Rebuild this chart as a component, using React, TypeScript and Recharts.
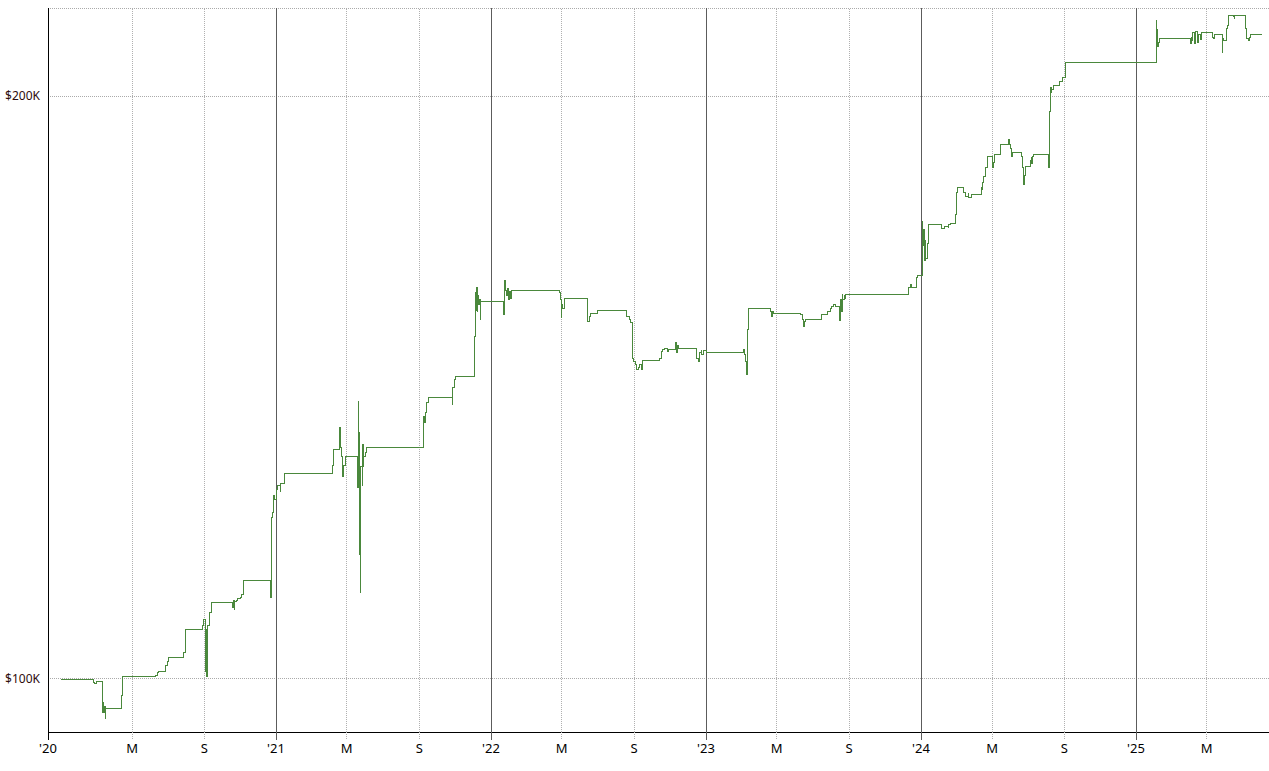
import { LineChart, Line, XAxis, YAxis, CartesianGrid, ReferenceLine } from 'recharts'

// equity curve, time as fractional year
const times = [
  2020.000, 2020.151, 2020.158, 2020.165, 2020.192, 2020.194, 2020.197, 2020.200, 2020.205, 2020.208,
  2020.280, 2020.287, 2020.440, 2020.447, 2020.454, 2020.488, 2020.493, 2020.498, 2020.572, 2020.578,
  2020.656, 2020.662, 2020.670, 2020.672, 2020.674, 2020.677, 2020.679, 2020.682, 2020.690, 2020.698,
  2020.797, 2020.800, 2020.805, 2020.809, 2020.814, 2020.823, 2020.833, 2020.840, 2020.848, 2020.974,
  2020.978, 2020.980, 2020.984, 2020.987, 2020.995, 2021.000, 2021.009, 2021.019, 2021.023, 2021.040,
  2021.262, 2021.268, 2021.294, 2021.298, 2021.301, 2021.304, 2021.308, 2021.313, 2021.321, 2021.379,
  2021.383, 2021.385, 2021.388, 2021.391, 2021.393, 2021.395, 2021.400, 2021.403, 2021.406, 2021.409,
  2021.414, 2021.422, 2021.684, 2021.687, 2021.690, 2021.693, 2021.698, 2021.707, 2021.822, 2021.823,
  2021.828, 2021.837, 2021.924, 2021.928, 2021.930, 2021.933, 2021.935, 2021.938, 2021.942, 2021.946,
  2021.950, 2021.953, 2021.958, 2022.056, 2022.059, 2022.062, 2022.064, 2022.067, 2022.071, 2022.076,
  2022.081, 2022.085, 2022.090, 2022.094, 2022.320, 2022.322, 2022.326, 2022.329, 2022.332, 2022.343,
  2022.447, 2022.451, 2022.456, 2022.463, 2022.488, 2022.494, 2022.630, 2022.644, 2022.651, 2022.656,
  2022.660, 2022.665, 2022.672, 2022.677, 2022.684, 2022.693, 2022.699, 2022.706, 2022.786, 2022.792,
  2022.797, 2022.805, 2022.821, 2022.826, 2022.860, 2022.864, 2022.867, 2022.874, 2022.957, 2022.963,
  2022.970, 2022.977, 2022.981, 2022.988, 2023.000, 2023.174, 2023.179, 2023.184, 2023.187, 2023.191,
  2023.194, 2023.197, 2023.299, 2023.304, 2023.308, 2023.313, 2023.440, 2023.447, 2023.453, 2023.457,
  2023.462, 2023.536, 2023.563, 2023.578, 2023.586, 2023.595, 2023.603, 2023.623, 2023.627, 2023.629,
  2023.634, 2023.637, 2023.642, 2023.647, 2023.651, 2023.941, 2023.944, 2023.950, 2023.955, 2023.980,
  2023.986, 2024.005, 2024.007, 2024.009, 2024.013, 2024.015, 2024.019, 2024.023, 2024.028, 2024.033,
  2024.094, 2024.108, 2024.127, 2024.130, 2024.138, 2024.160, 2024.163, 2024.169, 2024.197, 2024.205,
  2024.219, 2024.223, 2024.233, 2024.280, 2024.285, 2024.288, 2024.293, 2024.298, 2024.301, 2024.307,
  2024.332, 2024.335, 2024.343, 2024.369, 2024.408, 2024.413, 2024.417, 2024.421, 2024.423, 2024.427,
  2024.467, 2024.470, 2024.474, 2024.479, 2024.482, 2024.485, 2024.488, 2024.508, 2024.512, 2024.516,
  2024.520, 2024.524, 2024.592, 2024.595, 2024.597, 2024.599, 2024.601, 2024.603, 2024.606, 2024.609,
  2024.614, 2024.642, 2024.656, 2024.674, 2025.094, 2025.096, 2025.099, 2025.102, 2025.106, 2025.108,
  2025.253, 2025.256, 2025.260, 2025.265, 2025.270, 2025.274, 2025.279, 2025.284, 2025.288, 2025.293,
  2025.298, 2025.306, 2025.355, 2025.360, 2025.364, 2025.401, 2025.403, 2025.406, 2025.423, 2025.427,
  2025.428, 2025.453, 2025.456, 2025.460, 2025.508, 2025.512, 2025.516, 2025.521, 2025.526, 2025.533,
  2025.586,
]

const equity = [
  100000, 99640, 99410, 99760, 96040, 97190, 96040, 96730, 95360, 96500,
  98000, 100240, 100360, 100720, 100840, 101560, 102160, 102650, 103140, 106120,
  106630, 107390, 101320, 104750, 100840, 106000, 100240, 106630, 108290, 109460,
  108810, 109720, 108550, 109590, 109720, 109980, 110240, 110630, 112360, 110240,
  111160, 121240, 121820, 124450, 123720, 125200, 125940, 124900, 126240, 127750,
  128970, 131300, 134780, 132870, 131610, 130210, 127150, 128970, 130360, 125640,
  139170, 133980, 115890, 128210, 110770, 128670, 125940, 132080, 128670, 130210,
  130980, 131610, 134140, 136550, 135580, 137360, 138840, 139670, 138510, 141340,
  142690, 143200, 150350, 158240, 155070, 159370, 154710, 157860, 156000, 156930,
  153240, 156560, 156740, 155070, 154160, 159750, 160700, 158800, 157860, 159180,
  156930, 158430, 157300, 158800, 158240, 156930, 153610, 156000, 155260, 157120,
  154520, 152880, 153790, 154340, 154520, 154890, 153790, 153420, 152700, 151790,
  146470, 145780, 145260, 144400, 144740, 145260, 144400, 145950, 146470, 147520,
  147870, 148220, 147520, 147870, 149280, 147350, 148580, 148220, 146470, 145780,
  147350, 147700, 147000, 147700, 147350, 147870, 147000, 145780, 143540, 148750,
  151430, 155260, 154710, 153790, 154710, 154520, 154160, 153240, 151970, 152880,
  153420, 154160, 154710, 155260, 155630, 156000, 155630, 153060, 156930, 154710,
  158050, 156930, 157680, 157300, 158050, 158800, 159370, 159940, 159370, 161090,
  161660, 166540, 172180, 167530, 170550, 164570, 168530, 164960, 167930, 171570,
  170750, 171160, 170960, 171570, 171970, 173620, 178220, 179280, 178220, 177580,
  178010, 177370, 177800, 179280, 178860, 180560, 181640, 182510, 183600, 186010,
  183810, 184690, 186460, 188690, 189810, 188690, 188010, 187120, 186010, 186900,
  186010, 184910, 183810, 179920, 182070, 183600, 184030, 185130, 185790, 184470,
  186230, 186460, 184250, 183600, 189810, 196240, 200240, 202150, 200950, 201670,
  202630, 203360, 204330, 208250, 218660, 212500, 216330, 212000, 213260, 214280,
  213010, 214530, 213520, 215560, 213770, 213010, 215820, 213770, 213260, 215050,
  214020, 215560, 214530, 214280, 215050, 210740, 214280, 213520, 216840, 217360,
  219960, 219700, 219180, 219960, 216840, 214530, 214280, 213770, 214530, 215300,
  215300,
]

const axisStart = 2019.9395
const axisEnd = 2025.6186
const yearTicks = [2021, 2022, 2023, 2024, 2025]
const monthTicks = [2020.331, 2020.667, 2021.329, 2021.666, 2022.329, 2022.666, 2023.329, 2023.666, 2024.331, 2024.667, 2025.329]
const monthLabels = ['M', 'S', 'M', 'S', 'M', 'S', 'M', 'S', 'M', 'S', 'M']
const valueTicks = [100000, 200000]

const data = times.map((t, i) => ({ t, equity: equity[i] }))

function tickLabel(v: number) {
  if (Math.abs(v - axisStart) < 0.001) return "'20"
  if (yearTicks.includes(v)) return `'${String(v).slice(2)}`
  const mi = monthTicks.indexOf(v)
  return mi >= 0 ? monthLabels[mi] : ''
}

function XTick(props: any) {
  const { x, y, payload } = props
  const v = payload.value as number
  const isStart = Math.abs(v - axisStart) < 0.001
  const isYear = yearTicks.includes(v)
  const stroke = isStart ? '#000' : isYear ? '#5c5c5c' : '#b0b0b0'
  return (
    <g>
      <line x1={x} x2={x} y1={y - 8} y2={y} stroke={stroke} strokeDasharray={isStart || isYear ? undefined : '1 1'} shapeRendering="crispEdges" />
      <text x={x} y={y + 13} textAnchor="middle" fontSize={13} fill="#000" fontFamily="'Noto Sans', sans-serif">
        {tickLabel(v)}
      </text>
    </g>
  )
}

export default function App() {
  return (
    <div style={{ position: 'absolute', left: 0, top: 0 }}>
      <LineChart width={1269} height={771} data={data} margin={{ top: 8, right: 0, left: 0, bottom: 0 }}>
        <CartesianGrid vertical={false} stroke="#aaa" strokeDasharray="1 1" shapeRendering="crispEdges" />
        {monthTicks.map((m) => (
          <ReferenceLine key={m} x={m} stroke="#b0b0b0" strokeDasharray="1 1" shapeRendering="crispEdges" />
        ))}
        {yearTicks.map((yr) => (
          <ReferenceLine key={yr} x={yr} stroke="#5c5c5c" shapeRendering="crispEdges" />
        ))}
        <XAxis
          dataKey="t"
          type="number"
          domain={[axisStart, axisEnd]}
          allowDataOverflow
          ticks={[axisStart, ...monthTicks, ...yearTicks].sort((a, b) => a - b)}
          interval={0}
          height={39}
          tickSize={8}
          tickMargin={0}
          tickLine={false}
          tick={<XTick />}
          axisLine={{ stroke: '#000', shapeRendering: 'crispEdges' }}
        />
        <YAxis
          type="number"
          scale="log"
          domain={[93893, 222061]}
          allowDataOverflow
          ticks={valueTicks}
          width={48}
          tickLine={false}
          tickSize={6}
          tickMargin={2}
          axisLine={{ stroke: '#000', shapeRendering: 'crispEdges' }}
          tick={{ fontSize: 12, fill: '#2e0c0c', fontFamily: "'Noto Sans', sans-serif" }}
          tickFormatter={(v: number) => `$${v / 1000}K`}
        />
        <Line
          type="stepAfter"
          dataKey="equity"
          stroke="#4a883c"
          strokeWidth={1}
          dot={false}
          shapeRendering="crispEdges"
          isAnimationActive={false}
        />
      </LineChart>
    </div>
  )
}
